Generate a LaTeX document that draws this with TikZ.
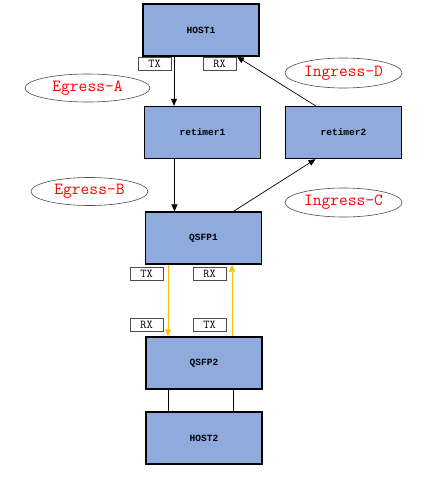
\documentclass[tikz,border=0pt]{standalone}
\usepackage{fontspec}
\newfontfamily\boxfont{Liberation Mono}
\usetikzlibrary{arrows.meta,shapes.geometric}
\definecolor{boxblue}{RGB}{143,170,220}
\definecolor{linkyellow}{RGB}{255,192,0}

\begin{document}
\begin{tikzpicture}[x=1pt, y=-1pt,
    main/.style = {draw, line width=1.4pt, fill=boxblue, minimum width=116pt, minimum height=52pt, font=\boxfont\bfseries\fontsize{9.5}{10}\selectfont},
    port/.style = {draw=black!70, line width=0.6pt, fill=white, minimum width=33pt, minimum height=13pt, inner sep=0pt, font=\ttfamily\fontsize{12}{12}\selectfont},
    flow/.style = {draw=black!70, ellipse, line width=0.6pt, inner sep=0pt, minimum width=117pt, minimum height=28pt, text=red, font=\ttfamily\fontsize{17}{17}\selectfont},
    link/.style = {-{Triangle[length=7pt,width=6pt]}, line width=0.7pt}]
        \useasboundingbox (0,0) rectangle (425,480);

        \node[main] (host1) at (201,30) {HOST1};
        \node[main] (ret1) at (202.5,132.5) {retimer1};
        \node[main] (ret2) at (343.5,132.5) {retimer2};
        \node[main] (qsfp1) at (203.5,238) {QSFP1};
        \node[main] (qsfp2) at (204,363) {QSFP2};
        \node[main] (host2) at (204,438) {HOST2};

        \node[port] (h1tx) at (154.5,63.5) {TX};
        \node[port] (h1rx) at (219.5,63.5) {RX};
        \node[port] (q1tx) at (146.5,273.5) {TX};
        \node[port] (q1rx) at (209.5,273.5) {RX};
        \node[port] (q2rx) at (146.5,324.5) {RX};
        \node[port] (q2tx) at (209.5,324.5) {TX};

        \node[flow, minimum width=125pt] (egA) at (87.5,88) {Egress-A};
        \node[flow, minimum height=30pt] (inD) at (343.5,73) {Ingress-D};
        \node[flow] (egB) at (89.5,191.5) {Egress-B};
        \node[flow, minimum height=29pt] (inC) at (343.5,202.5) {Ingress-C};

        \draw[link] ([xshift=-27pt]host1.south) -- ([xshift=-27pt]host1.south |- ret1.north);
        \draw[link] ([xshift=-28pt]ret1.south) -- ([xshift=-28pt]ret1.south |- qsfp1.north);
        \draw[link] ([xshift=30pt]qsfp1.north) -- ([xshift=-28pt]ret2.south);
        \draw[link] ([xshift=-28pt]ret2.north) -- ([xshift=36pt]host1.south);

        \draw[link, draw=linkyellow, -{Triangle[length=7pt,width=6pt,fill=linkyellow]}] ([xshift=-35.5pt]qsfp1.south) -- ([xshift=-35.5pt]qsfp1.south |- qsfp2.north);
        \draw[link, draw=linkyellow, -{Triangle[length=7pt,width=6pt,fill=linkyellow]}] ([xshift=28pt]qsfp2.north) -- ([xshift=28pt]qsfp2.north |- qsfp1.south);

        \draw[line width=0.7pt] ([xshift=-36pt]qsfp2.south) -- ([xshift=-36pt]qsfp2.south |- host2.north);
        \draw[line width=0.7pt] ([xshift=29pt]qsfp2.south) -- ([xshift=29pt]qsfp2.south |- host2.north);
\end{tikzpicture}
\end{document}
